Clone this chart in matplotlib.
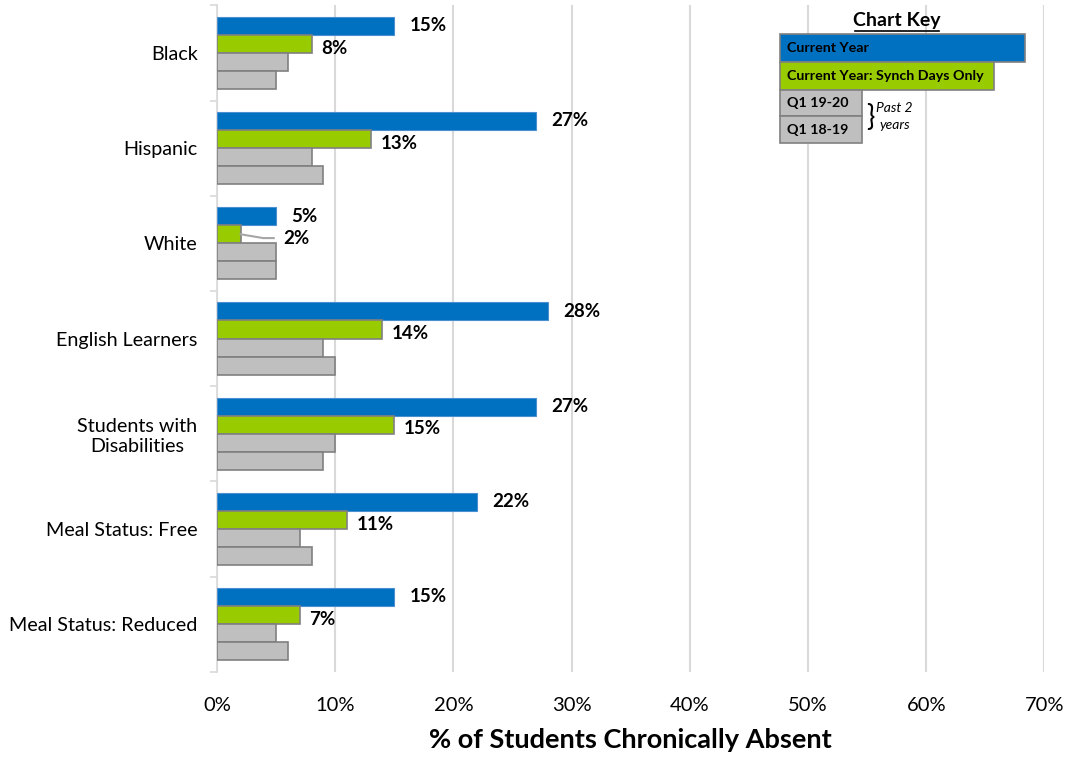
"""
Chronic absence by student group: current year vs. synch days vs. past two Q1s
"""

import matplotlib
matplotlib.use("Agg")
import matplotlib.pyplot as plt
from matplotlib.patches import Rectangle
from matplotlib.ticker import FuncFormatter, FixedLocator
import numpy as np

plt.rcParams['font.family'] = ['Lato', 'DejaVu Sans']

groups = ["Black", "Hispanic", "White", "English Learners",
          "Students with\nDisabilities", "Meal Status: Free", "Meal Status: Reduced"]
current_year = [15, 27, 5, 28, 27, 22, 15]
synch_days = [8, 13, 2, 14, 15, 11, 7]
q1_1920 = [6, 8, 5, 9, 10, 7, 5]
q1_1819 = [5, 9, 5, 10, 9, 8, 6]

key_labels = ["Current Year", "Current Year: Synch Days Only", "Q1 19-20", "Q1 18-19"]

BLUE = "#0070C0"
GREEN = "#99CC00"
GREY = "#BFBFBF"
EDGE = "#808080"


##########################################################################################
# Bars
##########################################################################################
fig = plt.figure(figsize=(10.69, 7.59), dpi=100)
ax = fig.add_axes([0.203, 0.115, 0.774, 0.878])

y = np.arange(len(groups))
h = 0.19
offsets = [-1.5 * h, -0.5 * h, 0.5 * h, 1.5 * h]

ax.barh(y + offsets[0], current_year, height=h, color=BLUE, edgecolor="#4a90d0", linewidth=0.8, zorder=3)
ax.barh(y + offsets[1], synch_days, height=h, color=GREEN, edgecolor=EDGE, linewidth=1.2, zorder=3)
ax.barh(y + offsets[2], q1_1920, height=h, color=GREY, edgecolor=EDGE, linewidth=1.2, zorder=3)
ax.barh(y + offsets[3], q1_1819, height=h, color=GREY, edgecolor=EDGE, linewidth=1.2, zorder=3)

# value labels for the current-year series
for i, v in enumerate(current_year):
    ax.annotate(f"{v}%", (v, y[i] + offsets[0]), xytext=(11, 0), textcoords="offset points",
                ha="left", va="center", fontsize=13.5, fontweight="bold")

for i, v in enumerate(synch_days):
    yc = y[i] + offsets[1]
    if v < 4:
        # too short for the label: pull it out with a leader line
        ax.plot([v, v + 1.9, v + 2.8], [yc, yc + 0.04, yc + 0.04], color="#a6a6a6", lw=1.5, zorder=4)
        ax.text(v + 3.6, yc + 0.04, f"{v}%", ha="left", va="center", fontsize=13.5, fontweight="bold")
    else:
        ax.annotate(f"{v}%", (v, yc), xytext=(7, -3), textcoords="offset points",
                    ha="left", va="center", fontsize=13.5, fontweight="bold")

ax.set_xlim(0, 70)
ax.set_ylim(len(groups) - 0.5, -0.5)
ax.set_xticks(np.arange(0, 71, 10))
ax.xaxis.set_major_formatter(FuncFormatter(lambda v, _: f"{v:.0f}%"))
ax.set_yticks(y)
ax.set_yticklabels(groups, multialignment="center")
ax.yaxis.set_minor_locator(FixedLocator(np.arange(-0.5, len(groups), 1)))

ax.grid(axis="x", color="#d9d9d9", linewidth=1.5, zorder=0)
ax.tick_params(axis="x", length=0, labelsize=14.5, pad=18)
ax.tick_params(axis="y", which="major", length=0, labelsize=14.2, pad=14)
ax.tick_params(axis="y", which="minor", length=5, color="#d9d9d9", width=1.2)

for s in ["top", "right", "bottom"]:
    ax.spines[s].set_visible(False)
ax.spines["left"].set_color("#d9d9d9")
ax.spines["left"].set_linewidth(1.2)

ax.set_xlabel("% of Students Chronically Absent", fontsize=19.5, fontweight="bold", labelpad=10)


##########################################################################################
# Chart key
##########################################################################################
tr = ax.transAxes
key_boxes = [
    (0.680, 0.9145, 0.297, 0.042, BLUE),
    (0.680, 0.8726, 0.259, 0.042, GREEN),
    (0.680, 0.8336, 0.099, 0.039, GREY),
    (0.680, 0.7931, 0.099, 0.0405, GREY),
]
for (x0, y0, w, hh, c), lab in zip(key_boxes, key_labels):
    ax.add_patch(Rectangle((x0, y0), w, hh, transform=tr, facecolor=c, edgecolor=EDGE,
                           linewidth=1.2, zorder=5, clip_on=False))
    ax.text(x0 + 0.009, y0 + hh / 2, lab, transform=tr, ha="left", va="center",
            fontsize=10.3, fontweight="bold", zorder=6)

ax.text(0.822, 0.977, "Chart Key", transform=tr, ha="center", va="center",
        fontsize=14, fontweight="bold", zorder=6)
ax.plot([0.771, 0.873], [0.961, 0.961], transform=tr, color="black", lw=1.2, clip_on=False, zorder=6)

ax.text(0.785, 0.831, "}", transform=tr, ha="left", va="center", fontsize=20, zorder=6)
ax.text(0.819, 0.833, "Past 2\nyears", transform=tr, ha="center", va="center",
        fontsize=10, style="italic", linespacing=1.45, zorder=6)

fig.savefig("out.png", dpi=100)
